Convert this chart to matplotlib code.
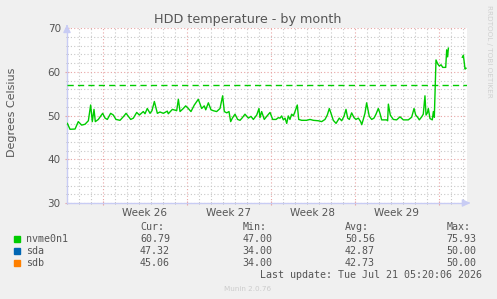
import numpy as np
import matplotlib
matplotlib.use("Agg")
import matplotlib.pyplot as plt
from matplotlib.ticker import MultipleLocator, FixedLocator, NullFormatter

# nvme0n1 temperature, time in days from the left edge of the graph
days = [0.03, 0.25, 0.67, 0.94, 1.22, 1.5, 1.78, 1.97, 2.11, 2.25, 2.36, 2.61,
        2.97, 3.17, 3.36, 3.64, 3.86, 4.08, 4.42, 4.75, 4.92, 5.11, 5.31, 5.53,
        5.81, 6.03, 6.36, 6.5, 6.69, 6.92, 7.08, 7.28, 7.53, 7.75, 8.03, 8.36,
        8.44, 8.78, 9.14, 9.28, 9.42, 9.69, 9.89, 10.11, 10.33, 10.61, 10.81,
        10.94, 11.08, 11.22, 11.44, 11.56, 11.78, 12.0, 12.19, 12.47, 12.75,
        12.97, 13.11, 13.31, 13.5, 13.64, 13.78, 14.0, 14.22, 14.42, 14.61,
        14.83, 15.11, 15.33, 15.53, 15.81, 16.0, 16.08, 16.22, 16.44, 16.64,
        16.92, 17.14, 17.42, 17.61, 17.75, 17.89, 18.03, 18.17, 18.31, 18.44,
        18.58, 18.72, 18.86, 19.0, 19.19, 19.31, 19.56, 19.97, 20.25, 20.53,
        20.94, 21.22, 21.5, 21.69, 21.86, 22.0, 22.19, 22.42, 22.69, 22.89,
        23.08, 23.25, 23.39, 23.53, 23.72, 23.92, 24.08, 24.28, 24.47, 24.56,
        24.69, 24.83, 24.97, 25.19, 25.39, 25.58, 25.75, 25.94, 26.08, 26.22,
        26.64, 26.72, 26.78, 26.94, 27.19, 27.47, 27.75, 28.03, 28.44, 28.72,
        28.92, 29.06, 29.22, 29.36, 29.56, 29.69, 29.83, 29.92, 30.03, 30.11,
        30.25, 30.44, 30.53, 30.61, 30.75, 30.89, 31.03, 31.17, 31.31, 31.56,
        31.64, 31.72, 31.78, 32.0, 32.94, 33.03, 33.17, 33.25]
temps = [48.2, 46.85, 46.9, 48.6, 47.8, 48.0, 48.8, 52.4, 48.6, 51.4, 48.6, 49.1,
         50.5, 49.4, 49.1, 50.5, 50.1, 49.1, 48.9, 49.9, 50.5, 49.8, 49.1, 49.4,
         50.7, 50.1, 50.9, 50.4, 51.6, 50.5, 51.1, 53.2, 50.5, 50.8, 50.5, 51.0,
         50.4, 51.4, 51.1, 53.7, 50.9, 51.6, 52.2, 51.6, 50.9, 52.4, 53.2,
         53.7, 52.7, 51.6, 52.2, 51.3, 52.9, 51.3, 51.1, 50.9, 51.6,
         54.5, 50.9, 50.6, 50.9, 48.6, 49.4, 50.3, 49.1, 48.9, 49.5,
         50.3, 49.4, 49.8, 49.1, 50.1, 51.6, 49.5, 50.9, 49.1, 49.8,
         50.7, 49.1, 49.1, 49.5, 49.4, 49.9, 49.0, 49.4, 48.2, 49.9,
         49.1, 50.3, 49.9, 50.9, 52.4, 49.1, 48.9, 48.9, 49.1, 48.9,
         48.8, 48.6, 49.1, 50.1, 51.6, 50.5, 48.9, 48.2, 49.4, 48.8,
         49.8, 51.4, 49.4, 49.1, 50.6, 49.5, 49.1, 49.4, 48.6, 47.9,
         49.1, 50.5, 52.9, 49.8, 49.1, 49.4, 50.3, 51.6, 50.5, 49.0,
         49.0, 48.8, 52.6, 50.1, 49.1, 49.0, 49.7, 49.0, 49.0, 49.6,
         51.6, 50.1, 49.6, 49.0, 49.7, 50.3, 54.5, 50.1, 50.6, 51.6,
         49.3, 49.0, 50.9, 49.6, 62.7, 61.8, 61.3, 61.6, 61.0, 61.0,
         65.0, 63.4, 65.4, np.nan, 63.3, 63.8, 60.6, 60.8]

warning = 57
week_starts = [3, 10, 17, 24, 31]
week_labels = ["Week 26", "Week 27", "Week 28", "Week 29"]

series = ["nvme0n1", "sda", "sdb"]
colors = ["#00cc00", "#0066b3", "#ff8000"]
cur = ["60.79", "47.32", "45.06"]
mins = ["47.00", "34.00", "34.00"]
avgs = ["50.56", "42.87", "42.73"]
maxs = ["75.93", "50.00", "50.00"]

W, H = 497, 299
fig = plt.figure(figsize=(W / 100, H / 100), dpi=100, facecolor="#f0f0f0")
ax = fig.add_axes([67 / W, 1 - 203 / H, 400 / W, 175 / H], facecolor="white")

ax.plot(days, temps, color="#00cc00", lw=1.0, zorder=3)
ax.axhline(warning, color="#00cc00", lw=1.0, ls=(0, (4.5, 3)), zorder=3)

ax.set_xlim(0, 400 / 12)
ax.set_ylim(30, 70)

ax.yaxis.set_major_locator(MultipleLocator(10))
ax.yaxis.set_minor_locator(MultipleLocator(2))
ax.xaxis.set_major_locator(FixedLocator(week_starts))
ax.xaxis.set_minor_locator(MultipleLocator(1))
ax.xaxis.set_major_formatter(NullFormatter())

ax.grid(which="minor", color="#c8c8c8", ls=(0, (1, 2)), lw=0.8)
ax.grid(which="major", color="#e8a4a4", ls=(0, (1, 2)), lw=0.8)
ax.set_axisbelow(True)

axis_col = "#c8ccf4"
for s in ["top", "right"]:
    ax.spines[s].set_visible(False)
for s in ["left", "bottom"]:
    ax.spines[s].set_color(axis_col)
    ax.spines[s].set_linewidth(1.0)
ax.tick_params(which="both", colors="#555555", labelsize=7.5, pad=3)
ax.tick_params(axis="x", which="major", length=3, direction="inout", color="#e8a4a4")
ax.tick_params(axis="x", which="minor", length=2, direction="inout", color="#aaaaaa")
ax.tick_params(axis="y", which="major", length=3, direction="inout", color="#e8a4a4")
ax.tick_params(axis="y", which="minor", length=2, direction="inout", color="#aaaaaa")

for i, lab in enumerate(week_labels):
    ax.text((week_starts[i] + week_starts[i + 1]) / 2, -0.03, lab,
            transform=ax.get_xaxis_transform(), ha="center", va="top",
            fontsize=7.5, color="#555555")

# axis arrows
ax.annotate("", xy=(0, 1.035), xytext=(0, 0.99), xycoords="axes fraction",
            arrowprops=dict(arrowstyle="-|>,head_width=0.22,head_length=0.45",
                            color=axis_col, lw=1.0), annotation_clip=False)
ax.annotate("", xy=(1.015, 0), xytext=(0.995, 0), xycoords="axes fraction",
            arrowprops=dict(arrowstyle="-|>,head_width=0.22,head_length=0.45",
                            color=axis_col, lw=1.0), annotation_clip=False)

ax.set_ylabel("Degrees Celsius", fontsize=8, color="#555555")
ax.yaxis.set_label_coords(-50 / 400, 0.52)

fig.text(248 / W, 1 - 19 / H, "HDD temperature - by month", ha="center",
         va="center", fontsize=9.2, color="#555555")
fig.text(489 / W, 1 - 5 / H, "RRDTOOL / TOBI OETIKER", rotation=270,
         ha="center", va="top", fontsize=5.2, color="#d0d0d0")

mono = "DejaVu Sans Mono"
fs = 7.2
ty = lambda y: 1 - y / H
cols = [140, 242.7, 345, 446.7]
for x, hdr in zip(cols, ["Cur:", "Min:", "Avg:", "Max:"]):
    fig.text(x / W, ty(227), hdr, family=mono, fontsize=fs, color="#555555",
             va="center")
rows_y = [239.3, 251, 262.7]
for i, name in enumerate(series):
    fig.patches.append(plt.Rectangle((14 / W, ty(rows_y[i] + 3)), 6 / W, 6 / H,
                                     transform=fig.transFigure,
                                     color=colors[i]))
    fig.text(26 / W, ty(rows_y[i]), name, family=mono, fontsize=fs,
             color="#555555", va="center")
    for x, v in zip(cols, [cur[i], mins[i], avgs[i], maxs[i]]):
        fig.text(x / W, ty(rows_y[i]), v, family=mono, fontsize=fs,
                 color="#555555", va="center")
fig.text(482 / W, ty(275), "Last update: Tue Jul 21 05:20:06 2026",
         family=mono, fontsize=fs, color="#555555", va="center", ha="right")
fig.text(248 / W, ty(289), "Munin 2.0.76", fontsize=5.2, color="#cccccc",
         ha="center", va="center")

fig.savefig("out.png", dpi=100, facecolor=fig.get_facecolor())
